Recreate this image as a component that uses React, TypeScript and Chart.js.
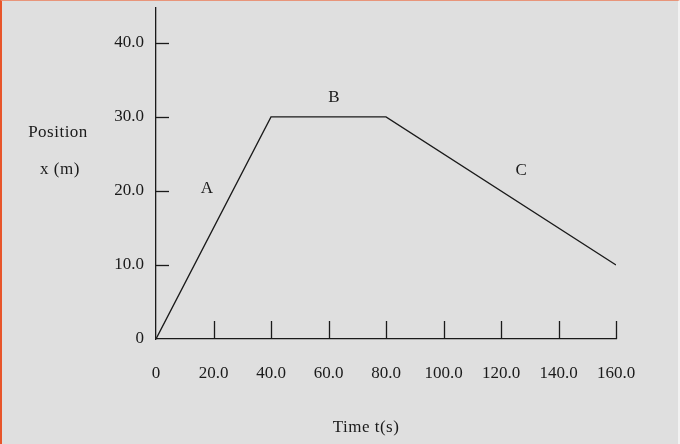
import React, { useEffect, useRef } from "react";
import { Chart, registerables } from "chart.js";

Chart.register(...registerables);

const timeValues = [0, 40, 80, 160];
const positionValues = [0, 30, 30, 10];
const xTicks = [0, 20, 40, 60, 80, 100, 120, 140, 160];
const yTicks = [0, 10, 20, 30, 40];
const segmentLabels = ["A", "B", "C"];
const segmentLabelX = [17.7, 61.9, 127];
const segmentLabelY = [20.3, 32.6, 22.8];

const FONT = '"Liberation Serif", "DejaVu Serif", serif';
const INK = "#1a1a1a";

const fmt = (v: number) => (v === 0 ? "0" : v.toFixed(1));

const decorPlugin = {
  id: "decor",
  afterDraw(chart: any) {
    const { ctx } = chart;
    const xs = chart.scales.x;
    const ys = chart.scales.y;
    ctx.save();
    ctx.strokeStyle = INK;
    ctx.lineWidth = 1.3;
    xTicks.forEach((v) => {
      if (v === 0) return;
      const px = Math.round(xs.getPixelForValue(v)) + 0.5;
      ctx.beginPath();
      ctx.moveTo(px, ys.bottom);
      ctx.lineTo(px, ys.bottom - 18);
      ctx.stroke();
    });
    yTicks.forEach((v) => {
      if (v === 0) return;
      const py = Math.round(ys.getPixelForValue(v)) + 0.5;
      ctx.beginPath();
      ctx.moveTo(xs.left, py);
      ctx.lineTo(xs.left + 13, py);
      ctx.stroke();
    });
    ctx.fillStyle = INK;
    ctx.font = `17px ${FONT}`;
    ctx.textAlign = "center";
    ctx.textBaseline = "middle";
    segmentLabels.forEach((t, i) => {
      ctx.fillText(t, xs.getPixelForValue(segmentLabelX[i]), ys.getPixelForValue(segmentLabelY[i]));
    });
    ctx.font = `17px ${FONT}`;
    try {
      (ctx as any).letterSpacing = "0.5px";
    } catch (e) {}
    ctx.fillText("Position", 58, 133);
    ctx.fillText("x (m)", 60, 170);
    ctx.fillText("Time t(s)", 366, 428);
    ctx.restore();
  },
};

export default function App() {
  const ref = useRef<HTMLCanvasElement>(null);
  useEffect(() => {
    document.body.style.margin = "0";
    const chart = new Chart(ref.current!, {
      type: "line",
      data: {
        datasets: [
          {
            data: timeValues.map((t, i) => ({ x: t, y: positionValues[i] })),
            borderColor: INK,
            borderWidth: 1.3,
            pointRadius: 0,
            fill: false,
            tension: 0,
          },
        ],
      },
      options: {
        animation: false,
        responsive: false,
        maintainAspectRatio: false,
        layout: { padding: { left: 0, top: 8, right: 64, bottom: 0 } },
        plugins: { legend: { display: false }, tooltip: { enabled: false } },
        scales: {
          x: {
            type: "linear",
            min: 0,
            max: 160,
            afterBuildTicks: (s: any) => {
              s.ticks = xTicks.map((v) => ({ value: v }));
            },
            afterFit: (s: any) => {
              s.height = 105;
              s.paddingLeft = 0;
              s.paddingRight = 0;
            },
            grid: { display: false, drawTicks: false },
            border: { display: true, color: INK, width: 1.3 },
            ticks: {
              padding: 24,
              color: INK,
              font: { family: FONT, size: 17 },
              maxRotation: 0,
              autoSkip: false,
              callback: (v: any) => fmt(Number(v)),
            },
          },
          y: {
            type: "linear",
            min: 0,
            max: 44.7,
            afterBuildTicks: (s: any) => {
              s.ticks = yTicks.map((v) => ({ value: v }));
            },
            afterFit: (s: any) => {
              s.width = 156;
              s.paddingTop = 0;
              s.paddingBottom = 0;
            },
            grid: { display: false, drawTicks: false },
            border: { display: true, color: INK, width: 1.3 },
            ticks: {
              padding: 12,
              color: INK,
              font: { family: FONT, size: 17 },
              autoSkip: false,
              callback: (v: any) => fmt(Number(v)),
            },
          },
        },
      },
      plugins: [decorPlugin],
    });
    return () => chart.destroy();
  }, []);
  return (
    <div
      style={{
        position: "absolute",
        left: 0,
        top: 0,
        width: 680,
        height: 444,
        background: "#dfdfdf",
        boxSizing: "border-box",
        borderLeft: "2px solid #e8552a",
        borderTop: "1px solid #e8957a",
        borderRight: "2px solid #f2f2f2",
        overflow: "hidden",
      }}
    >
      <canvas
        ref={ref}
        width={680}
        height={444}
        style={{ display: "block", position: "absolute", left: -2, top: -1 }}
      />
    </div>
  );
}
